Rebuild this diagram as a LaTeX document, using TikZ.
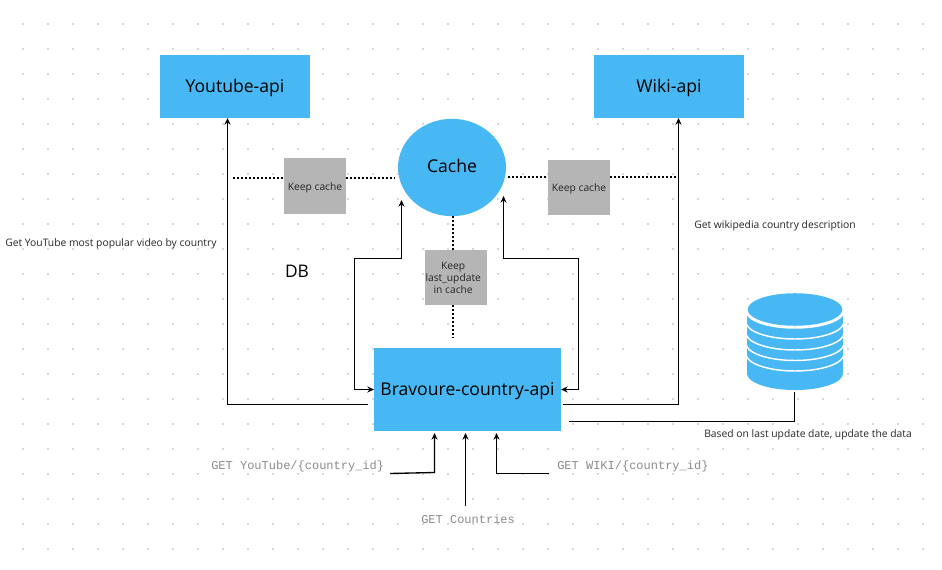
\documentclass[tikz,border=0pt]{standalone}
\usepackage{fontspec}
\setmainfont{Open Sans}
\setmonofont{Liberation Mono}
\usetikzlibrary{arrows.meta, shapes.geometric}
\definecolor{apiblue}{HTML}{47B8F3}
\definecolor{noteback}{HTML}{B5B5B5}
\definecolor{griddot}{HTML}{D8D8D8}
\definecolor{gettext}{HTML}{8A8A8A}
\tikzset{
  apibox/.style={rectangle,fill=apiblue,inner sep=0pt,text height=10pt,text depth=1pt,font=\fontsize{13.2}{15}\selectfont},
  notebox/.style={rectangle,fill=noteback,inner sep=0pt,minimum width=46.5pt,minimum height=41.5pt,
    text height=6.5pt,text depth=0.4pt,font=\fontsize{7.7}{9}\selectfont,text=black!85},
  notetext/.style={inner sep=0pt,align=center,font=\fontsize{7.7}{9}\selectfont,text=black!85},
  remark/.style={inner sep=0pt,font=\fontsize{7.75}{9}\selectfont,text=black!85},
  getcall/.style={inner sep=0pt,font=\ttfamily\fontsize{9}{11}\selectfont,text=gettext},
  link/.style={->,black,line width=1pt},
  keeplink/.style={black,line width=1.5pt,dash pattern=on 1.5pt off 1.5pt},
}
\begin{document}
\begin{tikzpicture}[x=0.75pt,y=-0.75pt,>={Stealth[length=5pt,width=4.5pt]}]
  \useasboundingbox (0,0) rectangle (942,570);
  % dot grid
  \foreach \i in {0,...,36}{
    \foreach \j in {0,...,21}{
      \fill[griddot] ({22+25*\i},{23+25*\j}) rectangle ++(2,2);
    }
  }
  % services
  \node[apibox,minimum width=112.5pt,minimum height=47.25pt] (ytb) at (235,86.5){Youtube-api};
  \node[apibox,minimum width=112.5pt,minimum height=47.25pt] (wiki) at (669,86.5){Wiki-api};
  \node[apibox,minimum width=140.25pt,minimum height=62.25pt] (brv) at (467.5,389.5){Bravoure-country-api};
  \node[apibox,ellipse,minimum width=81pt,minimum height=73pt,text height=9.6pt,text depth=1.8pt] (cache) at (452,167.5){Cache};
  % notes on the cache
  \node[notebox] (keepL) at (315,186){Keep cache};
  \node[notebox] (keepR) at (579,187.5){Keep cache};
  \node[notebox] (keepU) at (456,277.5){};
  \node[notetext] (keepUtxt) at (453.2,277.5){Keep\\last\_update\\in cache};
  % free ends
  \coordinate (dotL) at (233,178);
  \coordinate (dotCL) at (395,178);
  \coordinate (dotCR) at (508,177);
  \coordinate (dotR) at (676,177);
  \coordinate (dotB) at (452.5,338);
  \coordinate (outL) at (368,404.5);
  \coordinate (outR) at (563,404.5);
  \coordinate (outDB) at (569,421.5);
  \coordinate (inY) at (227.5,118);
  \coordinate (inW) at (678.5,118);
  \coordinate (inCL) at (401.5,200);
  \coordinate (inCR) at (503.5,196);
  \coordinate (bendCL) at (354.5,258.5);
  \coordinate (bendCR) at (578.5,258.5);
  \coordinate (inBL) at (374,389.5);
  \coordinate (inBR) at (561,389.5);
  \draw[keeplink] (dotL) -- (keepL.west |- dotL);
  \draw[keeplink] (keepL.east |- dotCL) -- (dotCL);
  \draw[keeplink] (dotCR) -- (keepR.west |- dotCR);
  \draw[keeplink] (keepR.east |- dotR) -- (dotR);
  \draw[keeplink] (dotB |- cache.south) -- (dotB |- keepU.north);
  \draw[keeplink] (dotB |- keepU.south) -- (dotB);
  % calls to the services
  \draw[link] (outL) -| (inY);
  \draw[link] (outR) -| (inW);
  \draw[link,<->] (inCL) |- (bendCL) |- (inBL);
  \draw[link,<->] (inCR) |- (bendCR) |- (inBR);
  % database
  \fill[apiblue] (747,310) -- (747,373.5) arc[start angle=180,end angle=360,x radius=36pt,y radius=12.4pt]
    -- (843,310) -- cycle;
  \foreach \c in {311,322,333,343.5,354}{
    \draw[white,line width=1.1pt] (746,\c) arc[start angle=180,end angle=360,x radius=36.75pt,y radius=12.75pt];
  }
  \fill[white] (795,310) ellipse[x radius=37pt,y radius=13pt];
  \fill[apiblue] (795,309.5) ellipse[x radius=35.5pt,y radius=12.2pt];
  \coordinate (db) at (794.5,392);
  \draw[line width=1pt] (outDB) -| (db);
  % requests
  \node[getcall,anchor=west] (getY) at (211,466.5){GET YouTube/\{country\_id\}};
  \node[getcall,anchor=west] (getW) at (557,466.5){GET WIKI/\{country\_id\}};
  \node[getcall,anchor=west] (getC) at (421,519.5){GET Countries};
  \coordinate (reqY) at (390,473.5);
  \coordinate (bendY) at (434.5,472.5);
  \coordinate (reqW) at (549,473.5);
  \coordinate (reqC) at (465.5,506);
  \coordinate (tipY) at (434.5,433);
  \coordinate (tipW) at (496.5,433);
  \coordinate (tipC) at (465.5,433);
  \draw[link] (reqY) -- (bendY) -- (tipY);
  \draw[link] (reqW) -| (tipW);
  \draw[link] (reqC) -- (tipC);
  % remarks
  \node[remark,anchor=west] (noteY) at (5,243.5){Get YouTube most popular video by country};
  \node[remark,anchor=west] (noteW) at (694,225.5){Get wikipedia country description};
  \node[remark,anchor=west] (noteD) at (704,435){Based on last update date, update the data};
  \node[inner sep=0pt,font=\fontsize{13}{15}\selectfont] (dbtxt) at (297,271){DB};
\end{tikzpicture}
\end{document}
